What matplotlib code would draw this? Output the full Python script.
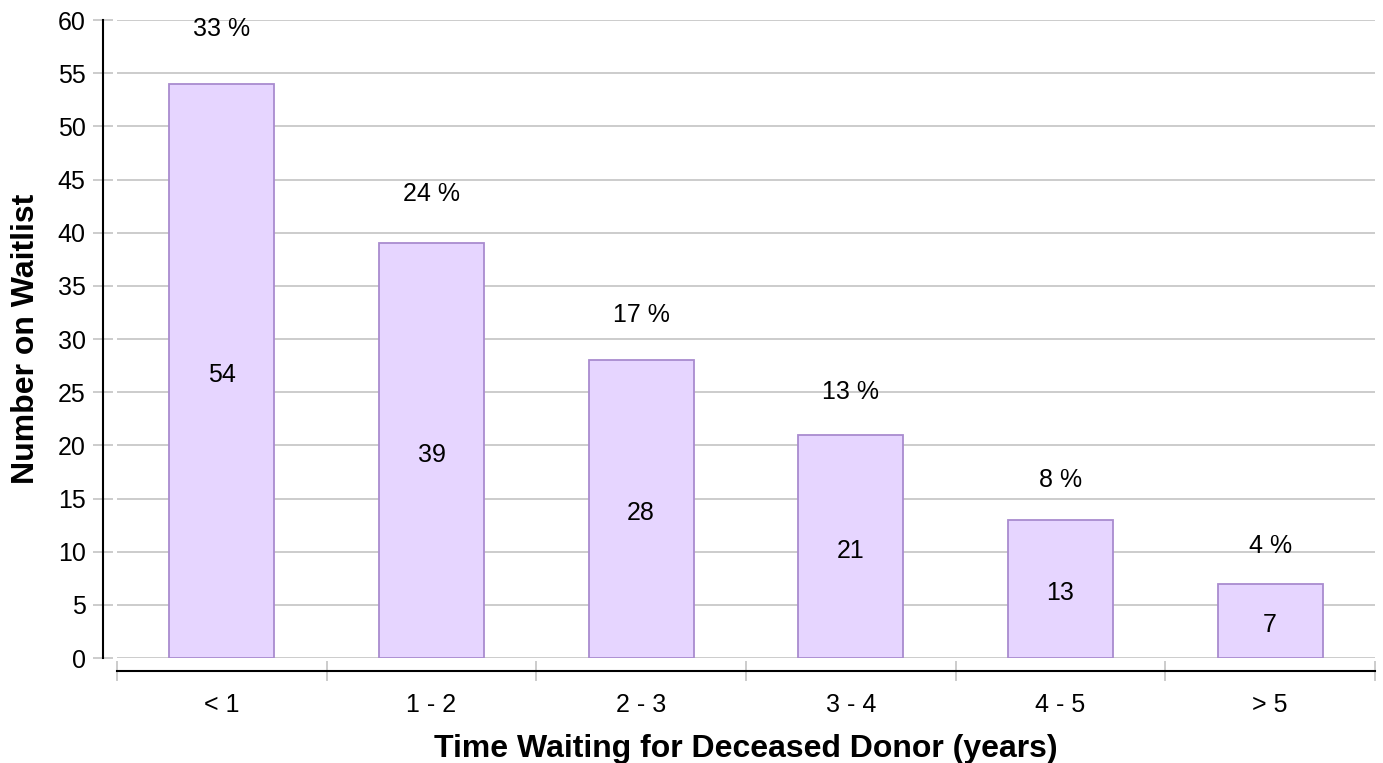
import matplotlib.pyplot as plt
import numpy as np

plt.rcParams['font.family'] = ['Liberation Sans', 'DejaVu Sans']

categories = ['< 1', '1 - 2', '2 - 3', '3 - 4', '4 - 5', '> 5']
counts = [54, 39, 28, 21, 13, 7]

total = sum(counts)
pct = [round(100 * c / total) for c in counts]

fig = plt.figure(figsize=(13.83, 7.63), dpi=100)
ax = fig.add_axes([117 / 1383, 1 - 658 / 763, (1375 - 117) / 1383, (658 - 20) / 763])

x = np.arange(len(categories))
ax.bar(x, counts, width=0.5, color='#e6d5ff', edgecolor='#a98bcf', linewidth=1.3, zorder=3)

for xi, c, p in zip(x, counts, pct):
    ax.text(xi, c / 2 - 0.4, str(c), ha='center', va='center', fontsize=18, zorder=4)
    ax.text(xi, 1.035 * c + 3.3, f'{p} %', ha='center', va='center', fontsize=18)

ax.set_xlim(-0.5, len(categories) - 0.5)
ax.set_ylim(0, 60)
ax.set_yticks(range(0, 61, 5))
ax.set_xticks(x)
ax.set_xticklabels(categories)
ax.set_xticks(np.arange(-0.5, len(categories)), minor=True)

ax.yaxis.grid(True, color='#c8c8c8', linewidth=1.3, zorder=0)
ax.set_axisbelow(True)

for s in ['top', 'right']:
    ax.spines[s].set_visible(False)
ax.spines['left'].set_position(('outward', 10))
ax.spines['bottom'].set_position(('outward', 9.5))
ax.spines['left'].set_linewidth(1.5)
ax.spines['bottom'].set_linewidth(1.5)

ax.tick_params(axis='y', direction='inout', length=15, width=1.3, color='#c8c8c8',
               labelsize=18, pad=5)
ax.tick_params(axis='x', which='major', length=0, labelsize=18, pad=16)
ax.tick_params(axis='x', which='minor', direction='inout', length=15, width=1.3,
               color='#c8c8c8')

ax.set_ylabel('Number on Waitlist', fontsize=23, fontweight='bold', labelpad=12)
ax.set_xlabel('Time Waiting for Deceased Donor (years)', fontsize=23, fontweight='bold',
              labelpad=12)

fig.savefig('out.png', dpi=100)
